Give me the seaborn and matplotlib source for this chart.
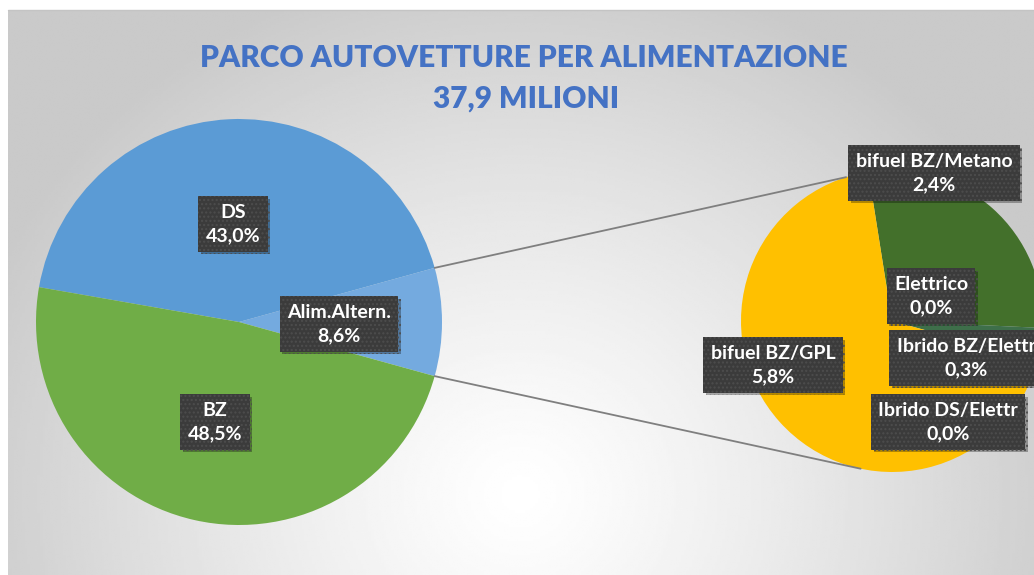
import numpy as np
import matplotlib
matplotlib.use("Agg")
import matplotlib.pyplot as plt
import matplotlib.patheffects as pe
import seaborn as sns

# data
main_labels = ["Alim.Altern.", "DS", "BZ"]
main_values = [8.6, 43.0, 48.5]
main_colors = ["#74AADF", "#5B9BD5", "#70AD47"]

sub_labels = ["bifuel BZ/Metano", "Elettrico", "Ibrido BZ/Elettr", "Ibrido DS/Elettr", "bifuel BZ/GPL"]
sub_values = [2.4, 0.0, 0.3, 0.0, 5.8]
sub_colors = ["#43702B", "#5B9BD5", "#3E6F4A", "#A5A5A5", "#FFC000"]

title_lines = ["PARCO AUTOVETTURE PER ALIMENTAZIONE", "37,9 MILIONI"]

# style
sns.set_theme(style="white")
plt.rcParams["font.family"] = ["Lato", "DejaVu Sans"]

W, H = 1034, 575
fig = plt.figure(figsize=(W / 100, H / 100), dpi=100)
ax = fig.add_axes([0, 0, 1, 1])

# background: radial grey gradient like the Excel chart area
xs = np.linspace(8, W, 400)
ys = np.linspace(0, H - 10, 240)
gx, gy = np.meshgrid(xs, ys)
d = np.sqrt(((gx - 520) / 580) ** 2 + (((H - gy) - 90) / 540) ** 2)
shade = 1 - 0.21 * np.clip(d, 0, 1) ** 1.2
ax.imshow(shade, extent=(8, W, 0, H - 10), origin="upper", cmap="gray",
          vmin=0, vmax=1, aspect="auto", zorder=0, interpolation="bilinear")
ax.plot([8, W], [H - 10, H - 10], color="#c4c4c4", lw=1, zorder=1)

# pies (pixel geometry)
c1, r1 = (239, H - 322), 203
c2, r2 = (892, H - 321), 151
start1 = -main_values[0] / sum(main_values) * 360 / 2

ax.pie(main_values, colors=main_colors, startangle=start1, counterclock=True,
       center=c1, radius=r1, wedgeprops=dict(linewidth=0), frame=True)
ax.pie(sub_values, colors=sub_colors, startangle=99, counterclock=False,
       center=c2, radius=r2, wedgeprops=dict(linewidth=0), frame=True)

# connector lines from the Alim.Altern. slice to the second pie
for a1, a2 in [(-start1, 107.7), (start1, -102)]:
    p1 = (c1[0] + r1 * np.cos(np.radians(a1)), c1[1] + r1 * np.sin(np.radians(a1)))
    p2 = (c2[0] + r2 * np.cos(np.radians(a2)), c2[1] + r2 * np.sin(np.radians(a2)))
    ax.plot([p1[0], p2[0]], [p1[1], p2[1]], color="#7f7f7f", lw=1.3, zorder=3)

# data labels
def fmt(v):
    return f"{v:.1f}".replace(".", ",") + "%"

label_pos_main = [(339, 251), (233, 351), (215, 153)]
label_pos_sub = [(934, 402), (931, 279), (966, 217), (948, 153), (773, 210)]

def put_label(x, y, text):
    t = ax.text(x, y, text, ha="center", va="center", fontsize=14, fontweight="bold",
                color="white", linespacing=1.45, zorder=5,
                bbox=dict(boxstyle="square,pad=0.38", fc="#3b3b3b", ec="#4d4d4d",
                          lw=0, hatch="...."))
    t.get_bbox_patch().set_path_effects([
        pe.SimplePatchShadow(offset=(2, -2), shadow_rgbFace="#000000", alpha=0.3),
        pe.Normal(),
    ])

for (x, y), name, v in zip(label_pos_main, main_labels, main_values):
    put_label(x, y, f"{name}\n{fmt(v)}")
for (x, y), name, v in zip(label_pos_sub, sub_labels, sub_values):
    put_label(x, y, f"{name}\n{fmt(v)}")

# title
ax.text(524, H - 67, title_lines[0], ha="center", va="baseline", fontsize=21.5,
        fontweight="heavy", color="#4472C4", zorder=5)
ax.text(526, H - 108, title_lines[1], ha="center", va="baseline", fontsize=21.5,
        fontweight="heavy", color="#4472C4", zorder=5)

ax.set_xlim(0, W)
ax.set_ylim(0, H)
ax.set_aspect("auto")
ax.axis("off")

fig.savefig("out.png", dpi=100, facecolor="white")
